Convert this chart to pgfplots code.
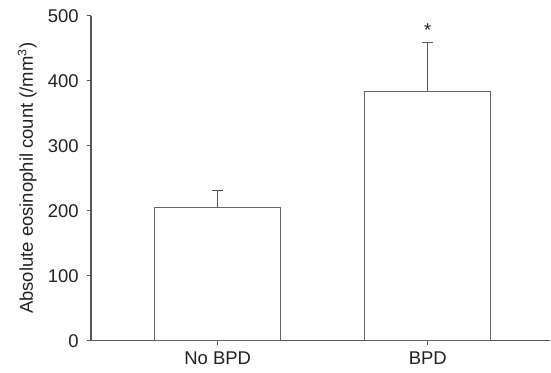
\documentclass[border=0pt]{standalone}
\usepackage{pgfplots}
\pgfplotsset{compat=1.18}
\usepackage{fontspec}
\setmainfont{Liberation Sans}
\definecolor{axgray}{HTML}{555555}
\definecolor{bargray}{HTML}{666666}
\definecolor{txt}{HTML}{222222}
\begin{document}
\fontsize{12}{14}\selectfont
\begin{tikzpicture}[x=1pt,y=1pt]
\useasboundingbox (-59.15,-21) rectangle (299,221.45);
\begin{axis}[
  at={(0,0)}, anchor=south west,
  scale only axis,
  width=298.35pt, height=211.25pt,
  xmin=0.397, xmax=2.582,
  ymin=0, ymax=500,
  axis x line=bottom, axis y line=left,
  axis line style={-, axgray, line width=0.7pt},
  xtick={1,2}, xticklabels={No BPD, BPD},
  ytick={0,100,200,300,400,500},
  tick style={axgray, line width=0.7pt},
  tick align=outside,
  major tick length=2.8pt,
  ticklabel style={txt},
  x tick label style={yshift=0pt},
  y tick label style={xshift=-1pt},
  /pgf/number format/assume math mode=true,
  ylabel={Absolute eosinophil count (/mm\textsuperscript{3})},
  ylabel style={txt, yshift=-1pt},
  clip=false,
]
\addplot[ybar, bar width=0.6, fill=white, draw=bargray, line width=0.7pt,
  error bars/.cd, y dir=plus, y explicit,
  error bar style={line width=0.7pt, axgray},
  error mark options={rotate=90, mark size=3.6pt, line width=0.7pt, axgray}]
  coordinates {(1,204.6) +- (0,26.2) (2,384) +- (0,75)};
\node[txt] at (axis cs:2,478) {*};
\end{axis}
\end{tikzpicture}
\end{document}
